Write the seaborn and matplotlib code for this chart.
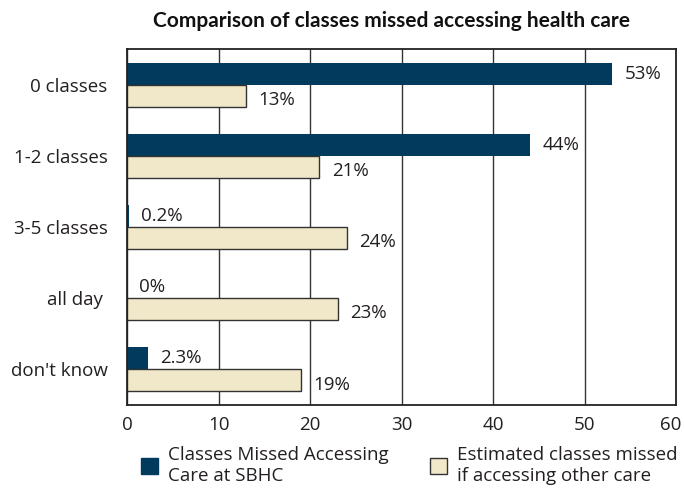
import matplotlib
matplotlib.use("Agg")
import matplotlib.pyplot as plt
import matplotlib.transforms as mtransforms
import seaborn as sns
import pandas as pd
from matplotlib.patches import Patch

categories = ["0 classes", "1-2 classes", "3-5 classes", "all day ", "don't know"]
sbhc = [53, 44, 0.2, 0, 2.3]
other = [13, 21, 24, 23, 19]
sbhc_labels = ["53%", "44%", "0.2%", "0%", "2.3%"]
other_labels = ["13%", "21%", "24%", "23%", "19%"]
series = ["Classes Missed Accessing\nCare at SBHC", "Estimated classes missed\nif accessing other care"]
xticks = [0, 10, 20, 30, 40, 50, 60]

sns.set_theme(style="white")
plt.rcParams['font.family'] = ['Open Sans', 'DejaVu Sans']

df = pd.DataFrame({
    "cat": categories * 2,
    "val": sbhc + other,
    "series": [series[0]] * 5 + [series[1]] * 5,
})

dark = "#003a5c"
light = "#f0e8c8"
txt = "#231f20"
fs = 13.5

fig = plt.figure(figsize=(6.84, 4.98), dpi=100)
ax = fig.add_axes([127/684, 1 - 405/498, (676.5-127)/684, (405-49)/498])
sns.barplot(data=df, y="cat", x="val", hue="series", order=categories,
            hue_order=series, palette=[dark, light], width=0.62,
            orient="h", ax=ax, legend=False, saturation=1,
            edgecolor="#333333", linewidth=1)
for p in ax.containers[0]:
    p.set_linewidth(0)

anns_dark = ax.bar_label(ax.containers[0], labels=sbhc_labels, padding=9, fontsize=fs, color=txt)
anns_light = ax.bar_label(ax.containers[1], labels=other_labels, padding=9, fontsize=fs, color=txt)
for a in anns_light:
    a.xyann = (9, -3)

ax.set_xlim(0, 60)
ax.set_xticks(xticks)
ax.xaxis.grid(True, color="#333333", linewidth=1)
ax.set_axisbelow(True)
for s in ax.spines.values():
    s.set_color("#222222")
    s.set_linewidth(1.3)
ax.set_xlabel("")
ax.set_ylabel("")
ax.tick_params(axis="x", labelsize=fs, colors=txt, length=0, pad=8)
ax.tick_params(axis="y", labelsize=fs, colors=txt, length=0, pad=14)
last = ax.get_xticklabels()[-1]
last.set_transform(last.get_transform() + mtransforms.ScaledTranslation(-4/72, 0, fig.dpi_scale_trans))

fig.text(0.572, 1 - 21/498, "Comparison of classes missed accessing health care",
         fontsize=15, fontweight="bold", color="#111111", ha="center", va="center",
         family=["Lato", "DejaVu Sans"])

handles = [Patch(facecolor=dark, edgecolor=dark), Patch(facecolor=light, edgecolor="#333333")]
fig.legend(handles, series, loc="upper left", bbox_to_anchor=(141/684, 1 - 446/498), ncol=2,
           frameon=False, fontsize=fs, handlelength=0.9, handleheight=0.9,
           columnspacing=2.2, handletextpad=0.55, labelcolor=txt,
           borderpad=0, borderaxespad=0, labelspacing=0)

fig.savefig("out.png", dpi=100)
